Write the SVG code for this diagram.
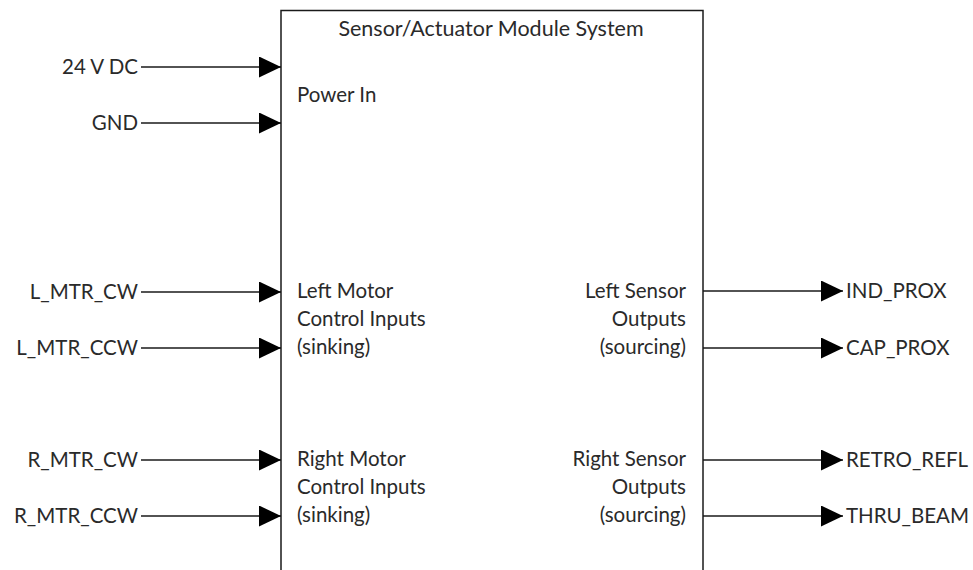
<svg xmlns="http://www.w3.org/2000/svg" width="973" height="570" viewBox="0 0 973 570">
<style>
text{font-family:Lato,"Open Sans","Liberation Sans",sans-serif;font-size:20.5px;fill:#2a2a2a}
.r{text-anchor:end}
.c{text-anchor:middle}
.t{font-size:21.5px}
.w{stroke:#1a1a1a;stroke-width:1.5;fill:none}
.box{stroke:#1a1a1a;stroke-width:1.5;fill:#fff}
</style>
<defs>
<marker id="ah" markerUnits="userSpaceOnUse" markerWidth="22" markerHeight="22" refX="22" refY="10.5" orient="auto">
<path d="M0,0 L22,10.5 L0,21 Z" fill="#000"/>
</marker>
</defs>
<rect width="973" height="570" fill="#fff"/>
<g id="module">
<rect class="box" x="281" y="10.5" width="422" height="580"/>
<text class="c t" x="491" y="36">Sensor/Actuator Module System</text>
<text x="297" y="102">Power In</text>
<text x="297" y="298">Left Motor</text>
<text x="297" y="326">Control Inputs</text>
<text x="297" y="354">(sinking)</text>
<text x="297" y="466">Right Motor</text>
<text x="297" y="494">Control Inputs</text>
<text x="297" y="522">(sinking)</text>
<text class="r" x="686" y="298">Left Sensor</text>
<text class="r" x="686" y="326">Outputs</text>
<text class="r" x="686" y="354">(sourcing)</text>
<text class="r" x="686" y="466">Right Sensor</text>
<text class="r" x="686" y="494">Outputs</text>
<text class="r" x="686" y="522">(sourcing)</text>
</g>
<g id="in-24v"><text class="r" x="138" y="74">24 V DC</text></g>
<g id="in-gnd"><text class="r" x="138" y="130">GND</text></g>
<g id="in-lcw"><text class="r" x="138" y="299">L_MTR_CW</text></g>
<g id="in-lccw"><text class="r" x="138" y="355">L_MTR_CCW</text></g>
<g id="in-rcw"><text class="r" x="138" y="467">R_MTR_CW</text></g>
<g id="in-rccw"><text class="r" x="138" y="523">R_MTR_CCW</text></g>
<g id="out-ind"><text x="846" y="298">IND_PROX</text></g>
<g id="out-cap"><text x="846" y="355">CAP_PROX</text></g>
<g id="out-retro"><text x="846" y="467">RETRO_REFL</text></g>
<g id="out-thru"><text x="846" y="523">THRU_BEAM</text></g>
<g id="connectors">
<line class="w" x1="141" y1="67" x2="281" y2="67" marker-end="url(#ah)"/>
<line class="w" x1="141" y1="123" x2="281" y2="123" marker-end="url(#ah)"/>
<line class="w" x1="141" y1="292" x2="281" y2="292" marker-end="url(#ah)"/>
<line class="w" x1="141" y1="348" x2="281" y2="348" marker-end="url(#ah)"/>
<line class="w" x1="141" y1="460" x2="281" y2="460" marker-end="url(#ah)"/>
<line class="w" x1="141" y1="516" x2="281" y2="516" marker-end="url(#ah)"/>
<line class="w" x1="703" y1="291" x2="843" y2="291" marker-end="url(#ah)"/>
<line class="w" x1="703" y1="348" x2="843" y2="348" marker-end="url(#ah)"/>
<line class="w" x1="703" y1="460" x2="843" y2="460" marker-end="url(#ah)"/>
<line class="w" x1="703" y1="516" x2="843" y2="516" marker-end="url(#ah)"/>
</g>
</svg>
